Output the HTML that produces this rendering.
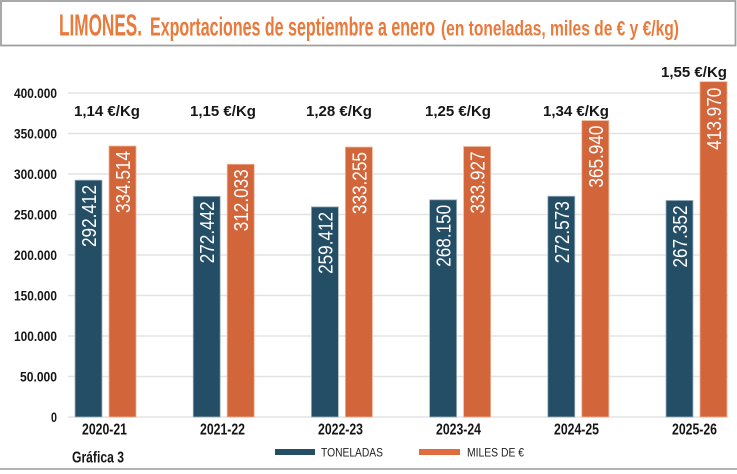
<!DOCTYPE html>
<html>
<head>
<meta charset="utf-8">
<style>
  html, body { margin: 0; padding: 0; background: #ffffff; }
  body { width: 737px; height: 474px; overflow: hidden; }
  svg { display: block; }
  text { font-family: "Liberation Sans", "DejaVu Sans", sans-serif; }
</style>
</head>
<body>
<svg width="737" height="474" viewBox="0 0 737 474" xmlns="http://www.w3.org/2000/svg">
  <rect x="0" y="0" width="737" height="474" fill="#ffffff"/>

  <!-- Title box -->
  <rect x="1" y="1" width="734.5" height="44.5" fill="#ffffff" stroke="#a0a0a0" stroke-width="1.8"/>
  <text x="59" y="35.5" font-size="31" font-weight="bold" fill="#ea7a3b" textLength="83" lengthAdjust="spacingAndGlyphs">LIMONES.</text>
  <text x="150" y="35.5" font-size="26" font-weight="bold" fill="#ea7a3b" textLength="285" lengthAdjust="spacingAndGlyphs">Exportaciones de septiembre a enero</text>
  <text x="441" y="35.5" font-size="21" font-weight="bold" fill="#ea7a3b" textLength="238" lengthAdjust="spacingAndGlyphs">(en toneladas, miles de € y €/kg)</text>

  <!-- Gridlines -->
  <g stroke="#e3e3e3" stroke-width="1.5">
    <line x1="68" y1="93" x2="728" y2="93"/>
    <line x1="68" y1="133.5" x2="728" y2="133.5"/>
    <line x1="68" y1="174" x2="728" y2="174"/>
    <line x1="68" y1="214.5" x2="728" y2="214.5"/>
    <line x1="68" y1="255" x2="728" y2="255"/>
    <line x1="68" y1="295.5" x2="728" y2="295.5"/>
    <line x1="68" y1="336" x2="728" y2="336"/>
    <line x1="68" y1="376.5" x2="728" y2="376.5"/>
    <line x1="68" y1="417" x2="728" y2="417"/>
  </g>

  <!-- Y axis labels -->
  <g font-size="14" font-weight="bold" fill="#151515" text-anchor="end">
    <text x="57" y="98" textLength="43" lengthAdjust="spacingAndGlyphs">400.000</text>
    <text x="57" y="138.5" textLength="43" lengthAdjust="spacingAndGlyphs">350.000</text>
    <text x="57" y="179" textLength="43" lengthAdjust="spacingAndGlyphs">300.000</text>
    <text x="57" y="219.5" textLength="43" lengthAdjust="spacingAndGlyphs">250.000</text>
    <text x="57" y="260" textLength="43" lengthAdjust="spacingAndGlyphs">200.000</text>
    <text x="57" y="300.5" textLength="43" lengthAdjust="spacingAndGlyphs">150.000</text>
    <text x="57" y="341" textLength="43" lengthAdjust="spacingAndGlyphs">100.000</text>
    <text x="57" y="381.5" textLength="37" lengthAdjust="spacingAndGlyphs">50.000</text>
    <text x="57" y="422" textLength="6" lengthAdjust="spacingAndGlyphs">0</text>
  </g>

  <!-- Bars -->
  <g stroke-width="0.8">
    <rect x="75" y="180.15" width="27" height="236.85" fill="#244e65" stroke="#9fb3bf"/>
    <rect x="109" y="146.04" width="27" height="270.96" fill="#d3653b" stroke="#efb396"/>
    <rect x="193.2" y="196.32" width="27" height="220.68" fill="#244e65" stroke="#9fb3bf"/>
    <rect x="227.2" y="164.25" width="27" height="252.75" fill="#d3653b" stroke="#efb396"/>
    <rect x="311.4" y="206.88" width="27" height="210.12" fill="#244e65" stroke="#9fb3bf"/>
    <rect x="345.4" y="147.06" width="27" height="269.94" fill="#d3653b" stroke="#efb396"/>
    <rect x="429.6" y="199.8" width="27" height="217.2" fill="#244e65" stroke="#9fb3bf"/>
    <rect x="463.6" y="146.52" width="27" height="270.48" fill="#d3653b" stroke="#efb396"/>
    <rect x="547.8" y="196.22" width="27" height="220.78" fill="#244e65" stroke="#9fb3bf"/>
    <rect x="581.8" y="120.59" width="27" height="296.41" fill="#d3653b" stroke="#efb396"/>
    <rect x="666" y="200.45" width="27" height="216.55" fill="#244e65" stroke="#9fb3bf"/>
    <rect x="700" y="81.68" width="27" height="335.32" fill="#d3653b" stroke="#efb396"/>
  </g>

  <!-- Value labels inside bars -->
  <g font-size="20" fill="#ffffff" text-anchor="end">
    <text transform="translate(96,185) rotate(-90)" textLength="62" lengthAdjust="spacingAndGlyphs">292.412</text>
    <text transform="translate(130,151) rotate(-90)" textLength="62" lengthAdjust="spacingAndGlyphs">334.514</text>

    <text transform="translate(214.2,201.3) rotate(-90)" textLength="62" lengthAdjust="spacingAndGlyphs">272.442</text>
    <text transform="translate(248.2,169.3) rotate(-90)" textLength="62" lengthAdjust="spacingAndGlyphs">312.033</text>

    <text transform="translate(332.4,211.9) rotate(-90)" textLength="62" lengthAdjust="spacingAndGlyphs">259.412</text>
    <text transform="translate(366.4,152.1) rotate(-90)" textLength="62" lengthAdjust="spacingAndGlyphs">333.255</text>

    <text transform="translate(450.6,204.8) rotate(-90)" textLength="62" lengthAdjust="spacingAndGlyphs">268.150</text>
    <text transform="translate(484.6,151.5) rotate(-90)" textLength="62" lengthAdjust="spacingAndGlyphs">333.927</text>

    <text transform="translate(568.8,201.2) rotate(-90)" textLength="62" lengthAdjust="spacingAndGlyphs">272.573</text>
    <text transform="translate(602.8,125.6) rotate(-90)" textLength="62" lengthAdjust="spacingAndGlyphs">365.940</text>

    <text transform="translate(687,205.5) rotate(-90)" textLength="62" lengthAdjust="spacingAndGlyphs">267.352</text>
    <text transform="translate(721,87.7) rotate(-90)" textLength="62" lengthAdjust="spacingAndGlyphs">413.970</text>
  </g>

  <!-- Price labels -->
  <g font-size="15" font-weight="bold" fill="#161616" text-anchor="middle">
    <text x="107" y="116" textLength="66" lengthAdjust="spacingAndGlyphs">1,14 €/Kg</text>
    <text x="223" y="116" textLength="66" lengthAdjust="spacingAndGlyphs">1,15 €/Kg</text>
    <text x="339" y="116" textLength="66" lengthAdjust="spacingAndGlyphs">1,28 €/Kg</text>
    <text x="458" y="116" textLength="66" lengthAdjust="spacingAndGlyphs">1,25 €/Kg</text>
    <text x="576" y="116" textLength="66" lengthAdjust="spacingAndGlyphs">1,34 €/Kg</text>
    <text x="694" y="77" textLength="66" lengthAdjust="spacingAndGlyphs">1,55 €/Kg</text>
  </g>

  <!-- X axis labels -->
  <g font-size="16" font-weight="bold" fill="#151515" text-anchor="middle">
    <text x="104.5" y="434.5" textLength="45" lengthAdjust="spacingAndGlyphs">2020-21</text>
    <text x="222.5" y="434.5" textLength="45" lengthAdjust="spacingAndGlyphs">2021-22</text>
    <text x="340.5" y="434.5" textLength="45" lengthAdjust="spacingAndGlyphs">2022-23</text>
    <text x="458.5" y="434.5" textLength="45" lengthAdjust="spacingAndGlyphs">2023-24</text>
    <text x="576.5" y="434.5" textLength="45" lengthAdjust="spacingAndGlyphs">2024-25</text>
    <text x="694.5" y="434.5" textLength="45" lengthAdjust="spacingAndGlyphs">2025-26</text>
  </g>

  <!-- Footer -->
  <text x="72" y="462.5" font-size="16" font-weight="bold" fill="#151515" textLength="52" lengthAdjust="spacingAndGlyphs">Gráfica 3</text>

  <!-- Legend -->
  <rect x="275" y="449" width="40" height="6" fill="#244e65"/>
  <text x="321" y="456.5" font-size="11.5" fill="#1e1e1e" textLength="62" lengthAdjust="spacingAndGlyphs">TONELADAS</text>
  <rect x="419" y="449" width="41" height="6" fill="#e06b3e"/>
  <text x="467" y="456.5" font-size="11.5" fill="#1e1e1e" textLength="57" lengthAdjust="spacingAndGlyphs">MILES DE €</text>

  <!-- Bottom rule -->
  <line x1="0" y1="469" x2="737" y2="469" stroke="#9a9a9a" stroke-width="1.5"/>
</svg>
</body>
</html>
